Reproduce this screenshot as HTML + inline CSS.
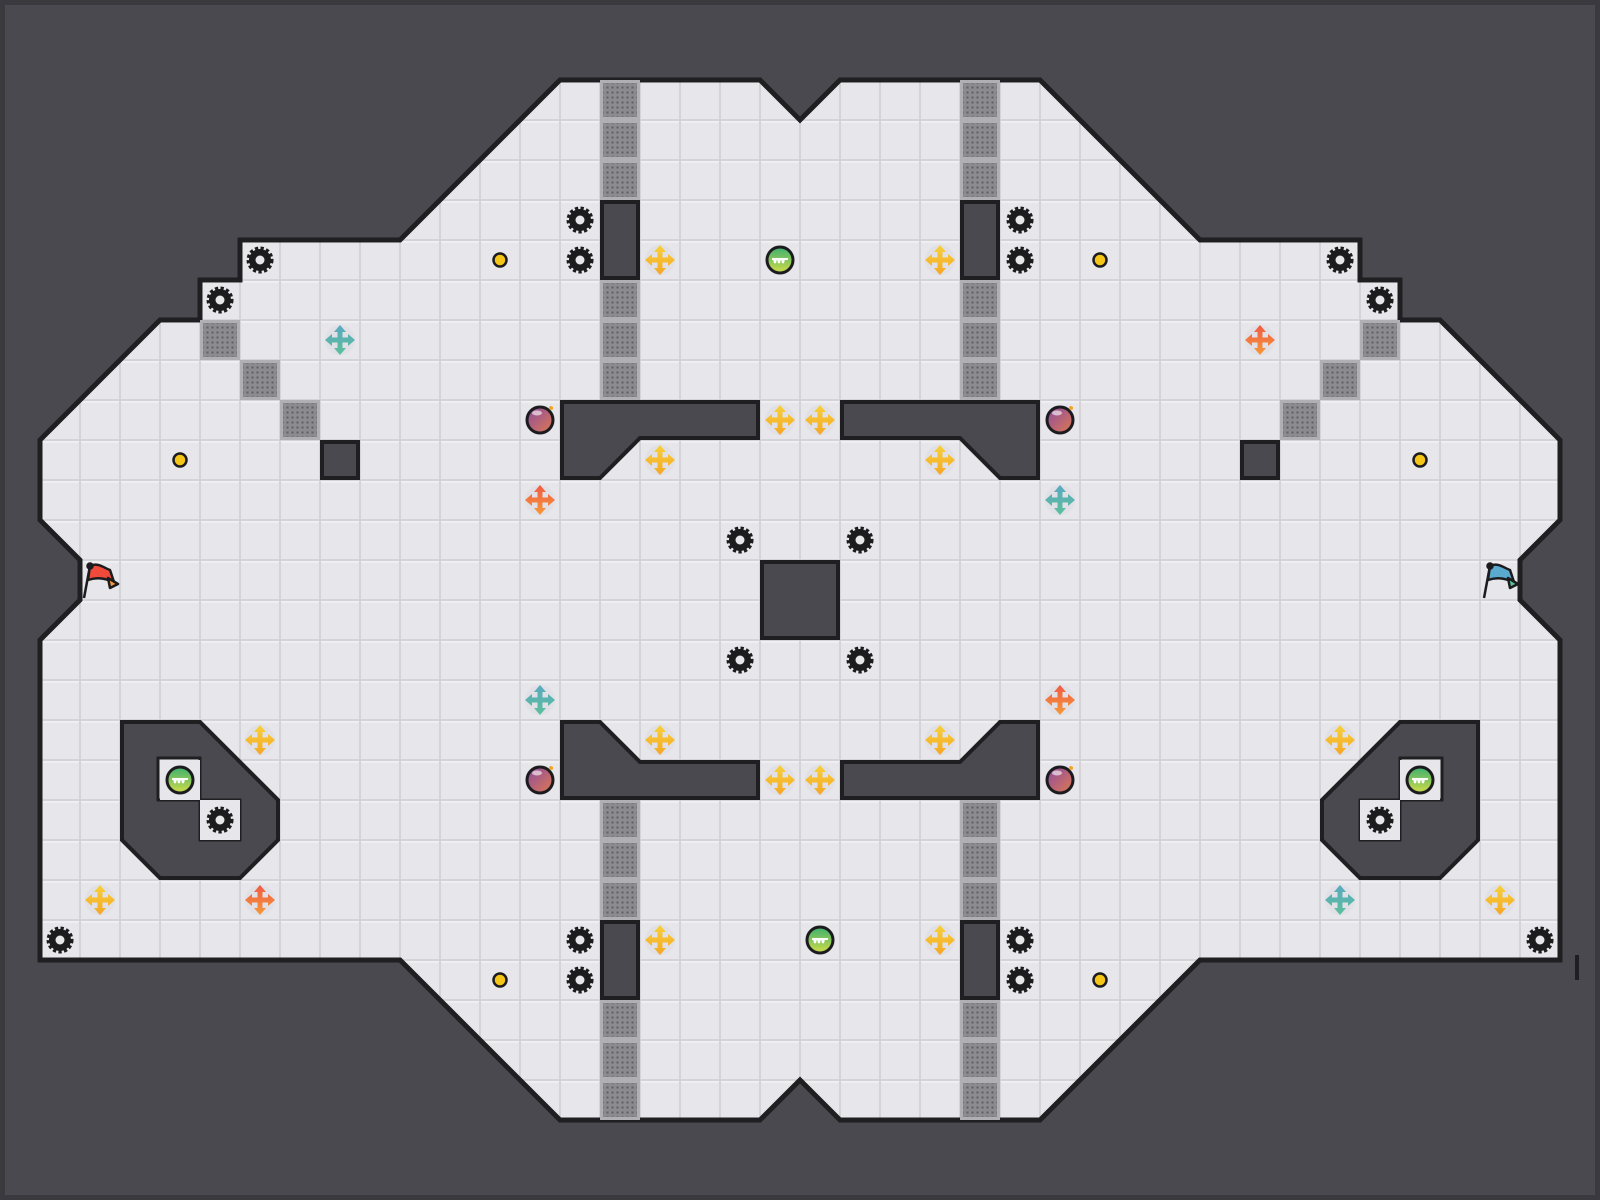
<!DOCTYPE html>
<html><head><meta charset="utf-8"><style>
html,body{margin:0;padding:0;background:#4a494f;}
svg{display:block;}
</style></head><body>
<svg width="1600" height="1200" viewBox="0 0 1600 1200" xmlns="http://www.w3.org/2000/svg">
<defs>
<pattern id="tile" x="0" y="0" width="40" height="40" patternUnits="userSpaceOnUse">
<rect width="40" height="40" fill="#d3d3d8"/>
<rect x="1" y="1" width="38" height="38" fill="#e7e7eb"/>
<rect x="1" y="1" width="38" height="2" fill="#efeff2"/>
</pattern>
<pattern id="grate" x="0" y="0" width="5" height="5" patternUnits="userSpaceOnUse">
<rect width="5" height="5" fill="#8c8c90"/>
<rect x="1.5" y="1.5" width="2" height="2" fill="#5f5f63"/>
</pattern>
<g id="gear">
<circle r="11" fill="none" stroke="#1c1c1e" stroke-width="5" stroke-dasharray="3 2.2"/>
<circle r="11" fill="#1c1c1e"/>
<circle r="4.5" fill="#e7e7eb"/>
</g>
<g id="gt">
<rect x="0" y="0" width="40" height="40" fill="#b0b0b4"/>
<rect x="3" y="3" width="34" height="34" fill="url(#grate)"/>
</g>
<g id="arr">
<circle r="15" fill="#dcdce2" opacity="0.6"/>
<path d="M0,-15 L6,-8 L2.5,-8 L2.5,-2.5 L8,-2.5 L8,-6 L15,0 L8,6 L8,2.5 L2.5,2.5 L2.5,8 L6,8 L0,15 L-6,8 L-2.5,8 L-2.5,2.5 L-8,2.5 L-8,6 L-15,0 L-8,-6 L-8,-2.5 L-2.5,-2.5 L-2.5,-8 L-6,-8 Z"/>
</g>
<linearGradient id="yel" x1="0" y1="0" x2="0" y2="1"><stop offset="0" stop-color="#f7d23a"/><stop offset="1" stop-color="#f5a623"/></linearGradient>
<linearGradient id="teal" x1="0" y1="0" x2="0" y2="1"><stop offset="0" stop-color="#5aa8c0"/><stop offset="1" stop-color="#5cc09a"/></linearGradient>
<linearGradient id="ora" x1="0" y1="0" x2="0" y2="1"><stop offset="0" stop-color="#f05a44"/><stop offset="1" stop-color="#f59a3a"/></linearGradient>
<linearGradient id="grn" x1="0" y1="0" x2="0" y2="1"><stop offset="0" stop-color="#3cb070"/><stop offset="1" stop-color="#d0dc48"/></linearGradient>
<linearGradient id="pur" x1="0" y1="0" x2="1" y2="1"><stop offset="0" stop-color="#8a4aa0"/><stop offset="1" stop-color="#e07a50"/></linearGradient>
<g id="ball">
<circle r="13" fill="url(#grn)" stroke="#1c1c1e" stroke-width="3"/>
<path d="M-8,-1 L8,-1 M-6,-1 L-5,3 L-4,-1 M-2,-1 L-1,3 L0,-1 M2,-1 L3,3 L4,-1" stroke="#fff" stroke-width="2" fill="none"/>
</g>
<g id="bomb">
<circle r="13" fill="url(#pur)" stroke="#1c1c1e" stroke-width="3"/>
<ellipse cx="-3" cy="-7" rx="5" ry="2.5" fill="#fff" opacity="0.6"/>
<circle cx="11" cy="-12" r="2" fill="#f5a623"/>
</g>
<g id="coin"><circle r="6.5" fill="#f5c518" stroke="#1c1c1e" stroke-width="2.5"/></g>
</defs>

<rect x="0" y="0" width="1600" height="1200" fill="#3a393e"/>
<rect x="5" y="5" width="1590" height="1190" fill="#4a494f"/>

<path d="M560,80 L760,80 L800,120 L840,80 L1040,80 L1200,240 L1360,240 L1360,280 L1400,280 L1400,320 L1440,320 L1560,440 L1560,520 L1520,560 L1520,600 L1560,640 L1560,960 L1200,960 L1040,1120 L840,1120 L800,1080 L760,1120 L560,1120 L400,960 L40,960 L40,640 L80,600 L80,560 L40,520 L40,440 L160,320 L200,320 L200,280 L240,280 L240,240 L400,240 Z" fill="url(#tile)" stroke="#1f1f22" stroke-width="5" stroke-linejoin="miter"/>

<g>
<use href="#gt" x="600" y="80"/><use href="#gt" x="600" y="120"/><use href="#gt" x="600" y="160"/>
<use href="#gt" x="600" y="280"/><use href="#gt" x="600" y="320"/><use href="#gt" x="600" y="360"/>
<use href="#gt" x="960" y="80"/><use href="#gt" x="960" y="120"/><use href="#gt" x="960" y="160"/>
<use href="#gt" x="960" y="280"/><use href="#gt" x="960" y="320"/><use href="#gt" x="960" y="360"/>
<use href="#gt" x="600" y="800"/><use href="#gt" x="600" y="840"/><use href="#gt" x="600" y="880"/>
<use href="#gt" x="600" y="1000"/><use href="#gt" x="600" y="1040"/><use href="#gt" x="600" y="1080"/>
<use href="#gt" x="960" y="800"/><use href="#gt" x="960" y="840"/><use href="#gt" x="960" y="880"/>
<use href="#gt" x="960" y="1000"/><use href="#gt" x="960" y="1040"/><use href="#gt" x="960" y="1080"/>
<use href="#gt" x="200" y="320"/><use href="#gt" x="240" y="360"/><use href="#gt" x="280" y="400"/>
<use href="#gt" x="1360" y="320"/><use href="#gt" x="1320" y="360"/><use href="#gt" x="1280" y="400"/>
</g>

<g fill="#4a494f" stroke="#1f1f22" stroke-width="4" stroke-linejoin="miter">
<rect x="602" y="202" width="36" height="76"/>
<rect x="962" y="202" width="36" height="76"/>
<rect x="602" y="922" width="36" height="76"/>
<rect x="962" y="922" width="36" height="76"/>
<path d="M562,402 L758,402 L758,438 L640,438 L600,478 L562,478 Z"/>
<path d="M842,402 L1038,402 L1038,478 L1000,478 L960,438 L842,438 Z"/>
<path d="M562,722 L600,722 L640,762 L758,762 L758,798 L562,798 Z"/>
<path d="M1038,722 L1000,722 L960,762 L842,762 L842,798 L1038,798 Z"/>
<rect x="762" y="562" width="76" height="76"/>
<rect x="322" y="442" width="36" height="36"/>
<rect x="1242" y="442" width="36" height="36"/>
<path d="M122,722 L200,722 L278,800 L278,840 L240,878 L160,878 L122,840 Z"/>
<path d="M1478,722 L1400,722 L1322,800 L1322,840 L1360,878 L1440,878 L1478,840 Z"/>
</g>
<g fill="#e7e7eb" stroke="#1f1f22" stroke-width="3">
<rect x="158" y="758" width="42" height="42"/>
<rect x="200" y="800" width="40" height="40"/>
<rect x="1400" y="758" width="42" height="42"/>
<rect x="1360" y="800" width="40" height="40"/>
</g>
<rect x="160" y="760" width="40" height="40" fill="#e7e7eb"/>
<rect x="200" y="800" width="40" height="40" fill="#e7e7eb"/>
<rect x="1400" y="760" width="40" height="40" fill="#e7e7eb"/>
<rect x="1360" y="800" width="40" height="40" fill="#e7e7eb"/>

<g>
<use href="#gear" x="260" y="260"/><use href="#gear" x="220" y="300"/>
<use href="#gear" x="580" y="220"/><use href="#gear" x="580" y="260"/>
<use href="#gear" x="1020" y="220"/><use href="#gear" x="1020" y="260"/>
<use href="#gear" x="1340" y="260"/><use href="#gear" x="1380" y="300"/>
<use href="#gear" x="740" y="540"/><use href="#gear" x="860" y="540"/>
<use href="#gear" x="740" y="660"/><use href="#gear" x="860" y="660"/>
<use href="#gear" x="220" y="820"/><use href="#gear" x="1380" y="820"/>
<use href="#gear" x="60" y="940"/><use href="#gear" x="1540" y="940"/>
<use href="#gear" x="580" y="940"/><use href="#gear" x="580" y="980"/>
<use href="#gear" x="1020" y="940"/><use href="#gear" x="1020" y="980"/>
</g>
<use href="#coin" x="500" y="260"/><use href="#coin" x="1100" y="260"/>
<use href="#coin" x="180" y="460"/><use href="#coin" x="1420" y="460"/>
<use href="#coin" x="500" y="980"/><use href="#coin" x="1100" y="980"/>
<g fill="url(#yel)">
<use href="#arr" x="660" y="260"/><use href="#arr" x="940" y="260"/>
<use href="#arr" x="780" y="420"/><use href="#arr" x="820" y="420"/>
<use href="#arr" x="660" y="460"/><use href="#arr" x="940" y="460"/>
<use href="#arr" x="260" y="740"/><use href="#arr" x="660" y="740"/>
<use href="#arr" x="940" y="740"/><use href="#arr" x="1340" y="740"/>
<use href="#arr" x="780" y="780"/><use href="#arr" x="820" y="780"/>
<use href="#arr" x="100" y="900"/><use href="#arr" x="1500" y="900"/>
<use href="#arr" x="660" y="940"/><use href="#arr" x="940" y="940"/>
</g>
<g fill="url(#teal)">
<use href="#arr" x="340" y="340"/><use href="#arr" x="1060" y="500"/>
<use href="#arr" x="540" y="700"/><use href="#arr" x="1340" y="900"/>
</g>
<g fill="url(#ora)">
<use href="#arr" x="1260" y="340"/><use href="#arr" x="540" y="500"/>
<use href="#arr" x="1060" y="700"/><use href="#arr" x="260" y="900"/>
</g>
<use href="#ball" x="780" y="260"/><use href="#ball" x="820" y="940"/>
<use href="#ball" x="180" y="780"/><use href="#ball" x="1420" y="780"/>
<use href="#bomb" x="540" y="420"/><use href="#bomb" x="1060" y="420"/>
<use href="#bomb" x="540" y="780"/><use href="#bomb" x="1060" y="780"/>
<g stroke="#1c1c1e" stroke-width="2.5" stroke-linejoin="round">
<line x1="84" y1="598" x2="90" y2="566"/>
<path d="M90,566 C98,562 104,568 110,570 L114,582 C108,580 100,576 88,580 Z" fill="#f04a3a"/>
<path d="M108,578 L118,584 L110,588 Z" fill="#f59a3a"/>
<circle cx="90" cy="566" r="2.5" fill="#1c1c1e"/>
<line x1="1484" y1="598" x2="1490" y2="566"/>
<path d="M1490,566 C1498,562 1504,568 1510,570 L1514,582 C1508,580 1500,576 1488,580 Z" fill="#5aaad0"/>
<path d="M1508,578 L1518,584 L1510,588 Z" fill="#5cc09a"/>
<circle cx="1490" cy="566" r="2.5" fill="#1c1c1e"/>
</g>
<rect x="1575" y="955" width="4" height="25" fill="#1f1f22"/>
</svg>
</body></html>
